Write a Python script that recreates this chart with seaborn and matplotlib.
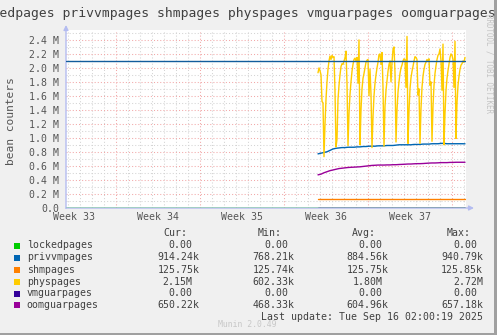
import numpy as np
import pandas as pd
import matplotlib
matplotlib.use("Agg")
import matplotlib.pyplot as plt
import matplotlib.dates as mdates
from matplotlib.ticker import MultipleLocator, FuncFormatter, NullFormatter
from matplotlib.patches import Rectangle
import seaborn as sns

# ---------------------------------------------------------------- data
series_names = ["lockedpages", "privvmpages", "shmpages",
                "physpages", "vmguarpages", "oomguarpages"]
series_colors = ["#00cc00", "#0066b3", "#ff8000",
                 "#ffcc00", "#330099", "#990099"]

cur_vals = ["0.00", "914.24k", "125.75k", "2.15M", "0.00", "650.22k"]
min_vals = ["0.00", "768.21k", "125.74k", "602.33k", "0.00", "468.33k"]
avg_vals = ["0.00", "884.56k", "125.75k", "1.80M", "0.00", "604.96k"]
max_vals = ["0.00", "940.79k", "125.85k", "2.72M", "0.00", "657.18k"]

# physpages, 2-hour samples (millions of pages)
physpages = [
    1.93, 2.00, 1.96, 1.90, 1.52, 1.50,
    0.73,
    1.20, 1.55, 1.80, 1.98, 2.10, 2.17, 2.12, 2.18, 2.15, 2.16, 1.67,
    0.87,
    0.98, 1.55, 1.75, 1.90, 2.02, 2.06, 2.05, 2.10, 2.14, 2.24, 1.78,
    0.89,
    1.35, 1.62, 1.80, 1.95, 2.05, 2.12, 2.14, 2.10, 2.15, 1.78, 2.40,
    0.90,
    1.40, 1.70, 1.85, 1.92, 2.00, 2.08, 2.11, 2.12, 1.60, 1.98, 1.62,
    0.86,
    1.30, 1.60, 1.78, 1.90, 2.00, 2.08, 2.19, 2.20, 2.05, 2.22, 1.72,
    0.88,
    1.45, 1.68, 1.82, 1.95, 2.05, 2.10, 1.80, 2.08, 2.26, 2.30, 1.93,
    0.94,
    1.40, 1.65, 1.80, 1.92, 2.00, 2.04, 2.10, 2.13, 2.12, 1.72, 2.45,
    0.92,
    1.38, 1.70, 1.86, 1.95, 2.02, 2.10, 2.16, 2.15, 2.12, 1.61, 1.70,
    0.92,
    1.42, 1.72, 1.88, 1.98, 2.05, 2.08, 2.12, 2.10, 2.13, 1.75, 1.80,
    0.95,
    1.45, 1.75, 1.92, 2.03, 2.12, 2.18, 2.20, 2.27, 2.10, 1.68, 2.34,
    0.90,
    1.35, 1.68, 1.85, 1.96, 2.05, 2.15, 2.20, 2.18, 2.12, 1.72, 2.38,
    0.99,
    1.50, 1.75, 1.88, 1.98, 2.04, 2.06, 2.10, 2.08, 2.15,
]

# privvmpages / oomguarpages, 6-hour samples (millions of pages)
privvmpages = [
    0.77, 0.78, 0.79, 0.80, 0.82, 0.84, 0.85, 0.855, 0.86, 0.86,
    0.865, 0.865, 0.865, 0.87, 0.87, 0.875, 0.875, 0.88, 0.88, 0.88,
    0.885, 0.885, 0.885, 0.89, 0.89, 0.89, 0.895, 0.90, 0.90, 0.90,
    0.90, 0.90, 0.905, 0.905, 0.905, 0.91, 0.91, 0.91, 0.915, 0.915,
    0.915, 0.92, 0.92, 0.915, 0.915, 0.915, 0.915, 0.915, 0.915, 0.914,
]
oomguarpages = [
    0.47, 0.48, 0.50, 0.515, 0.53, 0.54, 0.55, 0.56, 0.565, 0.57,
    0.575, 0.578, 0.58, 0.583, 0.585, 0.59, 0.595, 0.60, 0.605, 0.607,
    0.61, 0.61, 0.61, 0.612, 0.612, 0.615, 0.615, 0.618, 0.62, 0.622,
    0.625, 0.625, 0.628, 0.63, 0.63, 0.632, 0.635, 0.638, 0.64, 0.64,
    0.642, 0.645, 0.645, 0.645, 0.648, 0.648, 0.65, 0.65, 0.65, 0.65,
]
shmpages = [0.12575, 0.12575]
vmguarpages = [0.0, 0.0]
lockedpages = [0.0, 0.0]
limit_level = 2.1

view_start = pd.Timestamp("2025-08-13 20:00")
view_end = pd.Timestamp("2025-09-16 04:00")
data_start = pd.Timestamp("2025-09-03 20:00")

phys_times = pd.date_range(data_start, periods=len(physpages), freq="2h")
slow_times = pd.date_range(data_start, periods=len(privvmpages), freq="6h")
last_sample = phys_times[-1]

frames = [
    pd.DataFrame({"time": [view_start, last_sample], "value": lockedpages,
                  "series": "lockedpages"}),
    pd.DataFrame({"time": slow_times, "value": privvmpages,
                  "series": "privvmpages"}),
    pd.DataFrame({"time": [data_start, last_sample], "value": shmpages,
                  "series": "shmpages"}),
    pd.DataFrame({"time": phys_times, "value": physpages,
                  "series": "physpages"}),
    pd.DataFrame({"time": [data_start, last_sample], "value": vmguarpages,
                  "series": "vmguarpages"}),
    pd.DataFrame({"time": slow_times, "value": oomguarpages,
                  "series": "oomguarpages"}),
]
df = pd.concat(frames, ignore_index=True)

# ---------------------------------------------------------------- figure
W, H = 497, 335
DPI = 100
MONO = "DejaVu Sans Mono"
TXT = "#404040"
sns.set_style("white")
plt.rcParams["font.family"] = [MONO]

fig = plt.figure(figsize=(W / DPI, H / DPI), dpi=DPI, facecolor="#f0f0f0")


def fx(px):
    return px / W


def fy(py):
    return 1 - py / H


ax_left, ax_right, ax_top, ax_bottom = 66, 466, 30, 208.4
ax = fig.add_axes([fx(ax_left), fy(ax_bottom),
                   (ax_right - ax_left) / W, (ax_bottom - ax_top) / H])
ax.set_facecolor("white")

sns.lineplot(data=df, x="time", y="value", hue="series",
             hue_order=series_names,
             palette=dict(zip(series_names, series_colors)),
             estimator=None, legend=False, linewidth=1.0, ax=ax)
ax.axhline(limit_level, color="#125c9c", linewidth=1.0, zorder=3)

ax.set_xlim(view_start, view_end)
ax.set_ylim(-0.01, 2.542)
for s in ax.spines.values():
    s.set_visible(False)
ax.set_xlabel("")
ax.set_ylabel("")

# grid: weeks / days on x, 0.2M / 0.1M on y
ax.xaxis.set_major_locator(mdates.WeekdayLocator(byweekday=mdates.MO))
ax.xaxis.set_minor_locator(mdates.DayLocator())
ax.xaxis.set_major_formatter(NullFormatter())
ax.yaxis.set_major_locator(MultipleLocator(0.2))
ax.yaxis.set_minor_locator(MultipleLocator(0.1))
ax.yaxis.set_major_formatter(FuncFormatter(
    lambda v, p: "0.0" if abs(v) < 1e-9 else f"{v:.1f} M"))
ax.set_axisbelow(True)
ax.grid(which="minor", color="#d4d4d4", linestyle=(0, (1, 2)), linewidth=0.75)
ax.grid(which="major", color="#f2a8a8", linestyle=(0, (1, 2)), linewidth=0.75)
ax.tick_params(which="both", length=0)
ax.tick_params(axis="y", labelsize=7.15, labelcolor="#555555", pad=5)

# week labels, centred in each week
mondays = pd.date_range("2025-08-18", "2025-09-15", freq="7D")
for m in mondays:
    mid = m - pd.Timedelta(hours=84)
    ax.annotate(f"Week {mid.isocalendar().week}", xy=(mid, 0),
                xycoords=("data", "axes fraction"),
                xytext=(0, -8.3 * 0.72), textcoords="offset points",
                ha="center", va="center", fontsize=7.15, color="#555555",
                annotation_clip=False)

# axis arrows
axis_col = "#b4bcf0"
ax.annotate("", xy=(66, H - 25), xytext=(66, H - 208.4),
            xycoords="figure pixels", textcoords="figure pixels",
            arrowprops=dict(arrowstyle="-|>", color=axis_col, lw=1.0,
                            mutation_scale=7, shrinkA=0, shrinkB=0),
            zorder=1.5, annotation_clip=False)
ax.annotate("", xy=(474, H - 208), xytext=(66, H - 208),
            xycoords="figure pixels", textcoords="figure pixels",
            arrowprops=dict(arrowstyle="-|>", color=axis_col, lw=1.0,
                            mutation_scale=7, shrinkA=0, shrinkB=0),
            zorder=1.5, annotation_clip=False)

# title and side texts
fig.text(fx(232), fy(14), " ".join(series_names), ha="center", va="center",
         fontsize=9.33, color=TXT)
fig.text(fx(11), fy(121), "bean counters", rotation=90, ha="center",
         va="center", fontsize=8.1, color="#555555")
fig.text(fx(489), fy(63), "RRDTOOL / TOBI OETIKER", rotation=270,
         ha="center", va="center", fontsize=5.45, color="#c4c4c4")

# legend table
header_y = 233.3
fig.text(fx(163.3), fy(header_y), "Cur:", va="center", fontsize=7.15, color=TXT)
fig.text(fx(257.7), fy(header_y), "Min:", va="center", fontsize=7.15, color=TXT)
fig.text(fx(351.7), fy(header_y), "Avg:", va="center", fontsize=7.15, color=TXT)
fig.text(fx(446.7), fy(header_y), "Max:", va="center", fontsize=7.15, color=TXT)

col_right = {"cur": (192.7, 199.3), "min": (288.0, 294.3),
             "avg": (382.3, 388.3), "max": (477.3, 483.0)}


def col_text(x_short, x_long, s, y):
    # numbers with a unit suffix sit one character further right
    if s.endswith("k"):
        fig.text(fx(x_long), fy(y), s, ha="right", va="center",
                 fontsize=7.15, color=TXT)
    else:
        fig.text(fx(x_short), fy(y), s, ha="right", va="center",
                 fontsize=7.15, color=TXT)


row_y = [245.5, 257.5, 269.6, 281.6, 293.5, 305.3]
for i, name in enumerate(series_names):
    y = row_y[i]
    fig.add_artist(Rectangle((fx(14), fy(y + 3)), 6 / W, 6 / H,
                             transform=fig.transFigure,
                             facecolor=series_colors[i], edgecolor="none"))
    fig.text(fx(26.7), fy(y), name, va="center", fontsize=7.15, color=TXT)
    col_text(*col_right["cur"], cur_vals[i], y)
    col_text(*col_right["min"], min_vals[i], y)
    col_text(*col_right["avg"], avg_vals[i], y)
    mx = max_vals[i]
    if mx.endswith("M"):
        fig.text(fx(483.0), fy(y), mx, ha="right", va="center",
                 fontsize=7.15, color=TXT)
    else:
        col_text(*col_right["max"], mx, y)

fig.text(fx(483), fy(317.5), "Last update: Tue Sep 16 02:00:19 2025",
         ha="right", va="center", fontsize=7.15, color=TXT)
fig.text(fx(247.5), fy(324.5), "Munin 2.0.49", ha="center", va="center",
         fontsize=5.85, color="#c8c8c8")

# image frame
fig.add_artist(Rectangle((fx(494), 0), 3 / W, 1, transform=fig.transFigure,
                         facecolor="#a0a0a0", edgecolor="none"))
fig.add_artist(Rectangle((0, 0), 1, 2.5 / H, transform=fig.transFigure,
                         facecolor="#a0a0a0", edgecolor="none"))

fig.savefig("out.png", dpi=DPI, facecolor=fig.get_facecolor())
